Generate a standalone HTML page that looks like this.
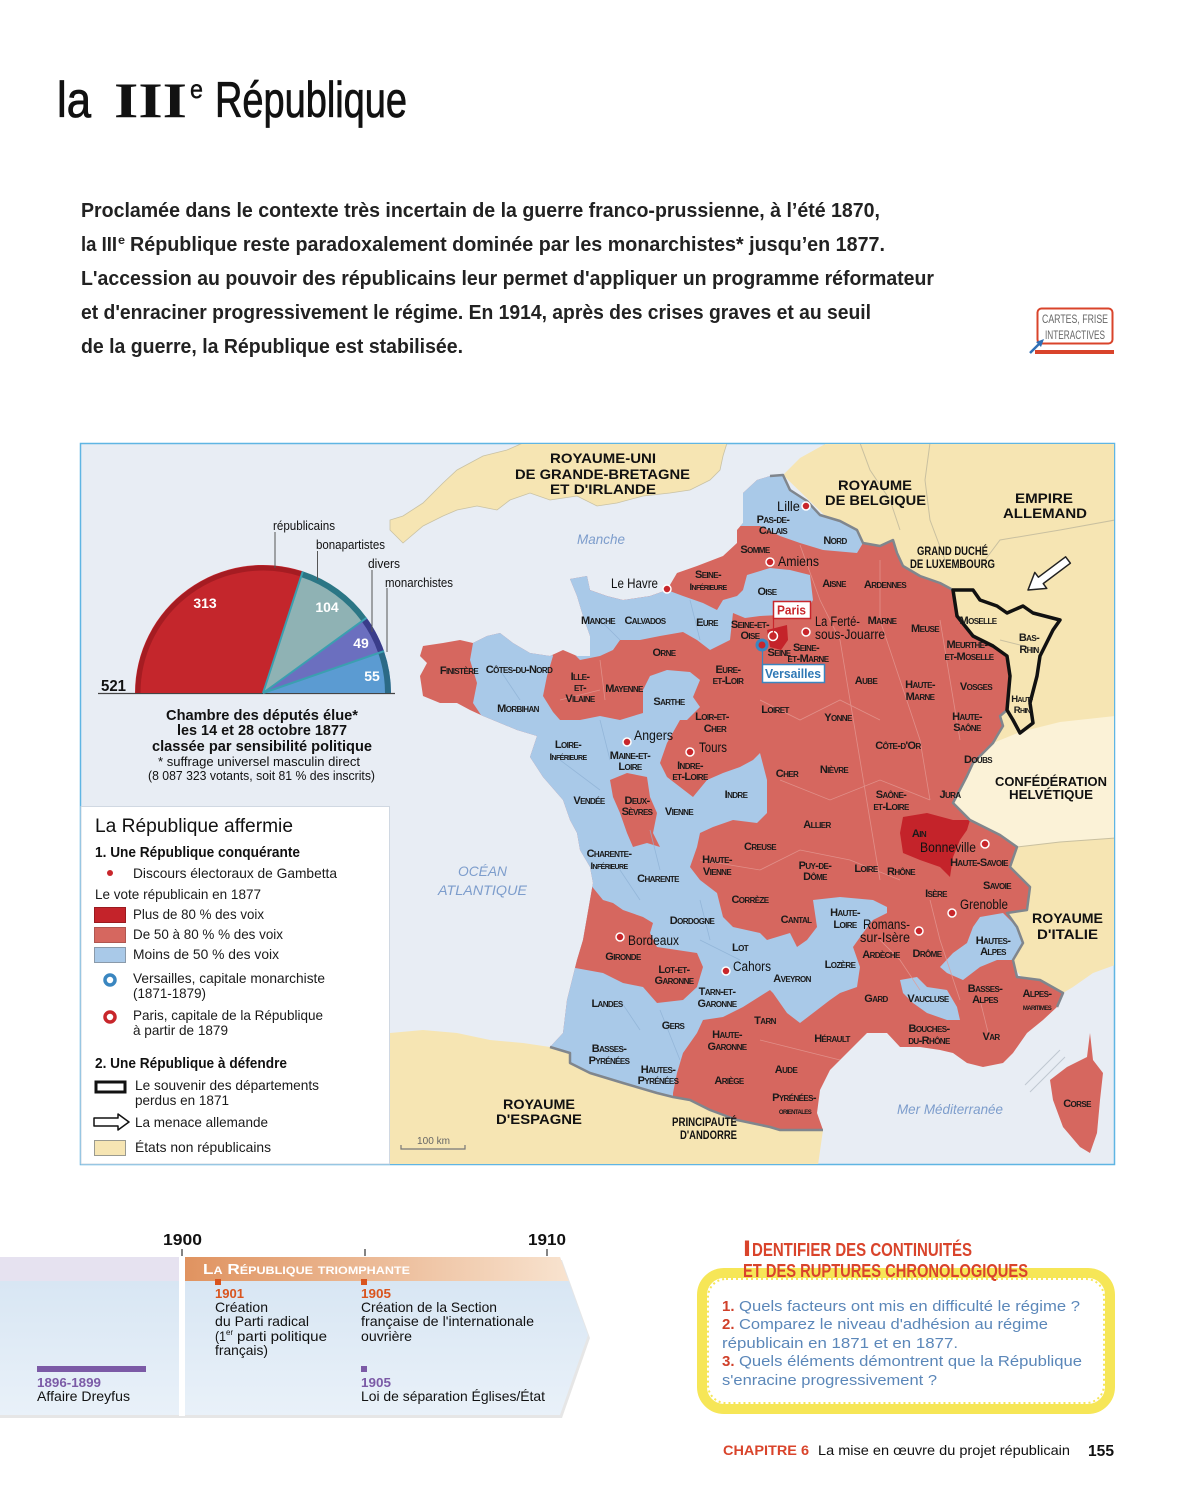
<!DOCTYPE html>
<html lang="fr">
<head>
<meta charset="utf-8">
<title>la IIIe République</title>
<style>
html,body{margin:0;padding:0;background:#fff;}
svg{display:block;}
text{font-family:"Liberation Sans",sans-serif;}
.d{font-weight:bold;font-size:11px;font-variant:small-caps;text-anchor:middle;fill:#1a1a1a;letter-spacing:-0.6px;}
.k{font-weight:bold;fill:#111;}
.c{font-size:13.5px;fill:#111;}
.sea{font-style:italic;fill:#7d9dcc;font-size:14px;}
.lg{font-size:14px;fill:#1a1a1a;}
.tl{font-size:14px;fill:#111;}
.q{font-size:15px;fill:#5b87b9;}
.qn{font-size:15px;fill:#d0402a;font-weight:bold;}
</style>
</head>
<body>
<svg width="1179" height="1500" viewBox="0 0 1179 1500" xmlns="http://www.w3.org/2000/svg">
<defs>
  <clipPath id="fr">
    <path d="M770,476 L783,475 790,490 807,501 820,515 840,521 857,530 863,543 880,546 893,540 897,553 903,566 920,576 940,583 953,590 957,616 973,636 993,646 1007,656 1010,676 1007,710 1000,716 1003,726 997,736 993,743 973,763 967,776 953,803 970,820 1000,835 1017,847 1010,867 1030,887 1027,910 1007,913 1017,927 1023,943 1013,960 1017,977 1040,980 1063,993 1057,1007 1043,1020 1027,1033 1013,1053 1003,1063 983,1067 967,1063 953,1053 940,1050 920,1047 900,1047 887,1033 867,1033 847,1053 830,1070 820,1090 817,1113 823,1130 780,1130 770,1127 737,1120 710,1110 690,1100 673,1097 657,1093 623,1083 590,1073 570,1063 570,1053 550,1047 563,1033 567,1000 577,960 583,940 590,900 593,883 590,867 580,850 577,833 570,820 563,800 543,777 530,757 537,736 517,730 500,723 483,716 470,710 457,703 440,703 423,696 420,676 427,663 420,656 423,646 443,643 460,640 473,643 487,636 500,633 513,643 530,653 550,656 563,650 577,656 590,656 590,636 583,616 577,596 570,579 587,576 590,590 607,596 623,600 650,596 667,590 677,573 697,566 723,556 737,543 737,530 743,523 743,493 757,480 Z"/>
  </clipPath>
  <linearGradient id="org" x1="0" y1="0" x2="1" y2="0">
    <stop offset="0" stop-color="#e09360"/>
    <stop offset="1" stop-color="#f8e3cf"/>
  </linearGradient>
  <linearGradient id="tlb" x1="0" y1="0" x2="0" y2="1">
    <stop offset="0" stop-color="#d5e4f2"/>
    <stop offset="1" stop-color="#e9f1f9"/>
  </linearGradient>
</defs>

<!-- ============ TITLE ============ -->
<text x="57" y="117" font-size="50" textLength="34" lengthAdjust="spacingAndGlyphs" fill="#111" stroke="#111" stroke-width="0.8">la</text>
<text x="114" y="117" font-size="50" font-weight="bold" textLength="73" lengthAdjust="spacingAndGlyphs" fill="#111" style="font-family:'Liberation Serif',serif">III</text>
<text x="190" y="98" font-size="26" textLength="13" lengthAdjust="spacingAndGlyphs" fill="#111" stroke="#111" stroke-width="0.4">e</text>
<text x="215" y="117" font-size="50" textLength="192" lengthAdjust="spacingAndGlyphs" fill="#111" stroke="#111" stroke-width="0.8">République</text>

<!-- ============ INTRO ============ -->
<g font-size="20" font-weight="bold" fill="#222">
<text x="81" y="217" textLength="799" lengthAdjust="spacingAndGlyphs">Proclamée dans le contexte très incertain de la guerre franco-prussienne, à l’été 1870,</text>
<text x="81" y="251" textLength="36" lengthAdjust="spacingAndGlyphs">la III</text>
<text x="118" y="244" font-size="12" textLength="7" lengthAdjust="spacingAndGlyphs">e</text>
<text x="130" y="251" textLength="755" lengthAdjust="spacingAndGlyphs">République reste paradoxalement dominée par les monarchistes* jusqu’en 1877.</text>
<text x="81" y="285" textLength="853" lengthAdjust="spacingAndGlyphs">L'accession au pouvoir des républicains leur permet d'appliquer un programme réformateur</text>
<text x="81" y="319" textLength="790" lengthAdjust="spacingAndGlyphs">et d'enraciner progressivement le régime. En 1914, après des crises graves et au seuil</text>
<text x="81" y="353" textLength="382" lengthAdjust="spacingAndGlyphs">de la guerre, la République est stabilisée.</text>
</g>

<!-- button -->
<rect x="1037.5" y="308.5" width="75" height="35" rx="4" fill="#fff" stroke="#d9442b" stroke-width="2"/>
<text x="1042" y="323" font-size="12" fill="#666" textLength="66" lengthAdjust="spacingAndGlyphs">CARTES, FRISE</text>
<text x="1045" y="339" font-size="12" fill="#666" textLength="60" lengthAdjust="spacingAndGlyphs">INTERACTIVES</text>
<rect x="1035" y="350" width="79" height="4" fill="#d9442b"/>
<path d="M1030,353 L1041,342" stroke="#2f6fb5" stroke-width="2.5"/>
<path d="M1044,339 L1036,342 L1041,347 Z" fill="#2f6fb5"/>

<!-- ============ MAP ============ -->
<rect x="80.5" y="443.5" width="1034" height="721" fill="#e8edf4" stroke="#5fb5e3" stroke-width="1.5"/>
<svg x="81" y="444" width="1033" height="720" viewBox="81 444 1033 720" overflow="hidden">
  <!-- UK -->
  <path d="M390,530 L403,543 423,526 443,516 457,510 477,506 497,510 510,500 530,493 550,500 577,496 597,506 617,503 643,496 670,493 690,490 710,480 720,470 723,456 727,443 523,443 507,450 483,456 457,470 443,483 423,503 403,516 390,520 Z" fill="#f6e5b3" stroke="#c9c2a4" stroke-width="0.8"/>
  <!-- NE: Belgium, Germany, Lux, Switzerland, Italy -->
  <path d="M827,443 L1115,443 1115,965 1093,973 1073,987 1063,993 1040,1000 960,900 900,800 900,600 850,540 783,475 800,458 Z" fill="#f6e5b3"/>
  <path d="M993,743 L1020,732 1060,722 1115,716 1115,838 1060,842 1017,847 970,820 953,803 967,776 973,763 Z" fill="#fbf2d7"/>
  <path d="M860,443 L870,470 890,500 900,530 M930,443 L925,480 930,520 945,560 M985,560 L1000,540 1060,530 1115,520 M1017,847 L1060,842 1115,838" fill="none" stroke="#c9c0a0" stroke-width="1"/>
  <!-- Spain -->
  <path d="M390,1033 L423,1030 457,1033 490,1040 523,1043 550,1047 570,1053 570,1063 590,1073 623,1083 657,1093 673,1097 690,1100 710,1110 737,1120 770,1127 780,1130 823,1130 818,1165 390,1165 Z" fill="#f6e5b3"/>
  <!-- France base red -->
  <path d="M770,476 L783,475 790,490 807,501 820,515 840,521 857,530 863,543 880,546 893,540 897,553 903,566 920,576 940,583 953,590 957,616 973,636 993,646 1007,656 1010,676 1007,710 1000,716 1003,726 997,736 993,743 973,763 967,776 953,803 970,820 1000,835 1017,847 1010,867 1030,887 1027,910 1007,913 1017,927 1023,943 1013,960 1017,977 1040,980 1063,993 1057,1007 1043,1020 1027,1033 1013,1053 1003,1063 983,1067 967,1063 953,1053 940,1050 920,1047 900,1047 887,1033 867,1033 847,1053 830,1070 820,1090 817,1113 823,1130 780,1130 770,1127 737,1120 710,1110 690,1100 673,1097 657,1093 623,1083 590,1073 570,1063 570,1053 550,1047 563,1033 567,1000 577,960 583,940 590,900 593,883 590,867 580,850 577,833 570,820 563,800 543,777 530,757 537,736 517,730 500,723 483,716 470,710 457,703 440,703 423,696 420,676 427,663 420,656 423,646 443,643 460,640 473,643 487,636 500,633 513,643 530,653 550,656 563,650 577,656 590,656 590,636 583,616 577,596 570,579 587,576 590,590 607,596 623,600 650,596 667,590 677,573 697,566 723,556 737,543 737,530 743,523 743,493 757,480 Z" fill="#d6675f"/>
  <g clip-path="url(#fr)">
    <!-- Nord / Pas-de-Calais -->
    <path d="M730,526 L735,470 783,470 790,490 807,501 820,515 840,521 857,530 863,543 857,553 823,550 800,543 780,536 760,526 Z" fill="#a9c9e8"/>
    <!-- Normandy + Oise -->
    <path d="M560,570 L587,570 590,590 607,596 623,600 650,596 667,590 683,596 703,603 717,610 723,600 737,596 743,590 747,575 770,568 790,570 810,575 813,600 805,613 780,615 760,616 745,618 733,613 730,640 710,650 697,640 683,632 660,636 640,640 620,640 613,650 600,656 580,660 560,640 Z" fill="#a9c9e8"/>
    <!-- Big west -->
    <path d="M473,643 L487,630 500,628 513,640 530,650 550,650 553,656 547,676 543,696 553,712 560,720 580,720 600,716 620,720 643,713 643,690 650,676 667,670 690,672 700,680 693,697 700,707 687,720 680,720 667,743 660,763 667,777 680,787 693,797 707,780 723,773 740,767 753,760 760,753 767,780 767,813 757,823 733,820 713,827 700,833 697,847 690,867 700,880 717,893 723,917 733,927 760,933 767,940 790,933 797,947 807,940 817,927 813,900 840,897 873,900 887,907 887,913 873,920 863,933 853,947 860,967 857,987 840,993 830,1000 817,1010 800,1023 787,1013 773,993 770,990 743,1007 723,1017 703,1020 697,1033 683,1053 677,1073 673,1093 673,1110 540,1110 500,1000 415,780 415,722 483,718 473,703 477,683 470,660 Z" fill="#a9c9e8"/>
    <!-- Deux-Sevres red -->
    <path d="M610,780 L627,773 647,777 650,797 657,813 653,833 660,847 647,843 633,847 627,833 620,813 613,797 Z" fill="#d6675f"/>
    <!-- Gironde + Lot-et-Garonne red -->
    <path d="M585,878 L603,900 613,903 623,910 643,917 653,923 650,933 657,947 677,950 697,953 703,967 697,987 683,1000 657,1003 643,987 623,983 603,973 570,967 570,878 Z" fill="#d6675f"/>
    <!-- Vaucluse blue -->
    <path d="M900,980 L917,977 927,987 947,990 957,1007 960,1020 947,1020 927,1013 913,1003 903,993 Z" fill="#a9c9e8"/>
    <!-- Hautes-Alpes blue -->
    <path d="M980,917 L1003,913 1017,927 1023,943 1013,960 997,960 980,967 963,980 947,973 940,967 953,953 967,943 973,927 Z" fill="#a9c9e8"/>
    <!-- Ain dark red -->
    <path d="M903,817 L927,813 953,820 970,820 967,830 960,840 953,857 950,877 940,867 920,860 903,853 900,833 Z" fill="#c4232a"/>
    <!-- Seine -->
    <path d="M767,630 L787,625 788,640 781,650 770,647 Z" fill="#c4232a"/>
    <!-- department boundary hints -->
    <g fill="none" stroke="#e39a94" stroke-width="0.8" opacity="0.8">
      <path d="M800,545 L820,600 840,640 850,700 860,760 870,820 880,880 M880,560 L880,620 900,680 920,740 930,800 M940,620 L950,680 960,740 M760,700 L800,720 840,700 880,720 M780,780 L830,800 880,780 930,800 M700,860 L760,870 800,850 850,860 900,880 M880,940 L900,960 920,990 M930,900 L940,940 960,1000 M760,1040 L800,1050 840,1060 M980,1000 L990,1040 M600,660 L605,700 M560,700 L600,690"/>
    </g>
    <g fill="none" stroke="#8fb2d4" stroke-width="0.8" opacity="0.8">
      <path d="M500,670 L520,700 M600,720 L610,760 M560,760 L600,790 M650,830 L660,870 M620,870 L640,900 M700,900 L710,940 M620,1000 L640,1030 M660,1010 L680,1060 M700,940 L740,960 M600,620 L620,640 M690,600 L700,640"/>
    </g>
  </g>
  <!-- France land borders -->
  <path d="M770,476 L783,475 790,490 807,501 820,515 840,521 857,530 863,543 880,546 893,540 897,553 903,566 920,576 940,583 953,590 957,616 973,636 993,646 1007,656 1010,676 1007,710 1000,716 1003,726 997,736 993,743 973,763 967,776 953,803 970,820 1000,835 1017,847 1010,867 1030,887 1027,910 1007,913 1017,927 1023,943 1013,960 1017,977 1040,980 1063,993 1057,1007" fill="none" stroke="#80868d" stroke-width="2.5" stroke-linejoin="round"/>
  <path d="M550,1047 L570,1053 570,1063 590,1073 623,1083 657,1093 673,1097 690,1100 710,1110 737,1120 770,1127 780,1130 823,1130" fill="none" stroke="#80868d" stroke-width="2.5" stroke-linejoin="round"/>
  <!-- Corsica -->
  <path d="M1090,1033 L1093,1060 1103,1073 1100,1100 1097,1133 1090,1153 1080,1147 1063,1127 1053,1100 1050,1080 1067,1067 1087,1057 Z" fill="#d6675f"/>
  <path d="M1025,1085 L1060,1050 M1030,1092 L1065,1057" stroke="#c0c8d2" stroke-width="1"/>
  <!-- lost territories -->
  <path d="M953,590 L973,590 980,600 997,606 1007,613 1023,606 1033,613 1060,620 1053,630 1040,656 1037,676 1030,703 1033,723 1020,733 1013,720 1007,710 1010,676 1007,656 993,646 973,636 957,616 Z" fill="none" stroke="#111" stroke-width="3.5" stroke-linejoin="round"/>
  <path d="M1000,640 L1040,650" stroke="#c9c0a0" stroke-width="1" fill="none"/>
  <!-- threat arrow -->
  <path d="M1070.4,563.2 L1043.2,583.6 1046.8,588.4 1028,590 1034.8,572.4 1038.4,577.2 1065.6,556.8 Z" fill="#fff" stroke="#222" stroke-width="1.5" stroke-linejoin="round"/>
</svg>

<!-- Pie chart -->
<line x1="98" y1="693.5" x2="395" y2="693.5" stroke="#444" stroke-width="1.2"/>
<path d="M263,693 L135,693 A128,128 0 0 1 302.8,571.3 Z" fill="#c4262c"/>
<path d="M263,693 L302.8,571.3 A128,128 0 0 1 366.6,617.8 Z" fill="#8fb2b4"/>
<path d="M263,693 L366.6,617.8 A128,128 0 0 1 384,651.1 Z" fill="#6b6fbf"/>
<path d="M263,693 L384,651.1 A128,128 0 0 1 391,693 Z" fill="#5b9bd2"/>
<path d="M138,693 A125,125 0 0 1 301.8,574.2" fill="none" stroke="#a51c22" stroke-width="5"/>
<path d="M301.8,574.2 A125,125 0 0 1 364.1,619.5" fill="none" stroke="#2b7685" stroke-width="6"/>
<path d="M364.1,619.5 A125,125 0 0 1 381.1,652.1" fill="none" stroke="#3a3d8a" stroke-width="6"/>
<path d="M381.1,652.1 A125,125 0 0 1 388,693" fill="none" stroke="#2b6a86" stroke-width="6"/>
<g stroke="#3b9fb0" stroke-width="2">
  <line x1="263" y1="693" x2="302.8" y2="571.3"/>
  <line x1="263" y1="693" x2="366.6" y2="617.8"/>
  <line x1="263" y1="693" x2="384" y2="651.1"/>
</g>
<g font-weight="bold" font-size="14" fill="#fff">
  <text x="205" y="608" text-anchor="middle">313</text>
  <text x="327" y="612" text-anchor="middle">104</text>
  <text x="361" y="648" text-anchor="middle">49</text>
  <text x="372" y="681" text-anchor="middle">55</text>
</g>
<text x="101" y="691" font-size="16" font-weight="bold" fill="#111" textLength="25" lengthAdjust="spacingAndGlyphs">521</text>
<g stroke="#555" stroke-width="1">
  <line x1="275" y1="532" x2="275" y2="568"/>
  <line x1="317.5" y1="551" x2="317.5" y2="580"/>
  <line x1="372" y1="570" x2="372" y2="632"/>
  <line x1="387" y1="588" x2="387" y2="652"/>
</g>
<g font-size="13" fill="#111">
  <text x="273" y="530" textLength="62" lengthAdjust="spacingAndGlyphs">républicains</text>
  <text x="316" y="549" textLength="69" lengthAdjust="spacingAndGlyphs">bonapartistes</text>
  <text x="368" y="568" textLength="32" lengthAdjust="spacingAndGlyphs">divers</text>
  <text x="385" y="587" textLength="68" lengthAdjust="spacingAndGlyphs">monarchistes</text>
</g>
<g fill="#111">
  <text x="166" y="720" font-size="15" font-weight="bold" textLength="192" lengthAdjust="spacingAndGlyphs">Chambre des députés élue*</text>
  <text x="177" y="735" font-size="15" font-weight="bold" textLength="170" lengthAdjust="spacingAndGlyphs">les 14 et 28 octobre 1877</text>
  <text x="152" y="751" font-size="15" font-weight="bold" textLength="220" lengthAdjust="spacingAndGlyphs">classée par sensibilité politique</text>
  <text x="158" y="766" font-size="12.5" textLength="202" lengthAdjust="spacingAndGlyphs">* suffrage universel masculin direct</text>
  <text x="148" y="780" font-size="12.5" textLength="227" lengthAdjust="spacingAndGlyphs">(8 087 323 votants, soit 81 % des inscrits)</text>
</g>

<!-- Map labels: countries / seas -->
<g class="k">
  <text x="550" y="463" font-size="14" textLength="106" lengthAdjust="spacingAndGlyphs">ROYAUME-UNI</text>
  <text x="515" y="479" font-size="14" textLength="175" lengthAdjust="spacingAndGlyphs">DE GRANDE-BRETAGNE</text>
  <text x="550" y="494" font-size="14" textLength="106" lengthAdjust="spacingAndGlyphs">ET D'IRLANDE</text>
  <text x="838" y="490" font-size="14" textLength="74" lengthAdjust="spacingAndGlyphs">ROYAUME</text>
  <text x="825" y="505" font-size="14" textLength="101" lengthAdjust="spacingAndGlyphs">DE BELGIQUE</text>
  <text x="1015" y="503" font-size="14" textLength="58" lengthAdjust="spacingAndGlyphs">EMPIRE</text>
  <text x="1003" y="518" font-size="14" textLength="84" lengthAdjust="spacingAndGlyphs">ALLEMAND</text>
  <text x="917" y="555" font-size="12" textLength="71" lengthAdjust="spacingAndGlyphs">GRAND DUCHÉ</text>
  <text x="910" y="568" font-size="12" textLength="85" lengthAdjust="spacingAndGlyphs">DE LUXEMBOURG</text>
  <text x="995" y="786" font-size="13" textLength="112" lengthAdjust="spacingAndGlyphs">CONFÉDÉRATION</text>
  <text x="1009" y="799" font-size="13" textLength="84" lengthAdjust="spacingAndGlyphs">HELVÉTIQUE</text>
  <text x="1032" y="923" font-size="14" textLength="71" lengthAdjust="spacingAndGlyphs">ROYAUME</text>
  <text x="1037" y="939" font-size="14" textLength="61" lengthAdjust="spacingAndGlyphs">D'ITALIE</text>
  <text x="503" y="1109" font-size="14" textLength="72" lengthAdjust="spacingAndGlyphs">ROYAUME</text>
  <text x="496" y="1124" font-size="14" textLength="86" lengthAdjust="spacingAndGlyphs">D'ESPAGNE</text>
  <text x="672" y="1126" font-size="12" textLength="65" lengthAdjust="spacingAndGlyphs">PRINCIPAUTÉ</text>
  <text x="680" y="1139" font-size="12" textLength="57" lengthAdjust="spacingAndGlyphs">D'ANDORRE</text>
</g>
<text class="sea" x="577" y="544" textLength="48" lengthAdjust="spacingAndGlyphs">Manche</text>
<text class="sea" x="458" y="876" textLength="49" lengthAdjust="spacingAndGlyphs">OCÉAN</text>
<text class="sea" x="438" y="895" textLength="89" lengthAdjust="spacingAndGlyphs">ATLANTIQUE</text>
<text class="sea" x="897" y="1114" textLength="106" lengthAdjust="spacingAndGlyphs">Mer Méditerranée</text>
<text x="417" y="1144" font-size="10" fill="#666" textLength="33" lengthAdjust="spacingAndGlyphs">100 km</text>
<path d="M401,1145 L401,1149 L465,1149 L465,1145" fill="none" stroke="#777" stroke-width="1.2"/>

<!-- Departments -->
<g class="d">
  <text x="773" y="523">Pas-de-</text><text x="773" y="534">Calais</text>
  <text x="835" y="544">Nord</text>
  <text x="755" y="553">Somme</text>
  <text x="708" y="578">Seine-</text><text x="708" y="590" font-size="9.5">Inférieure</text>
  <text x="767" y="595">Oise</text>
  <text x="834" y="587">Aisne</text>
  <text x="885" y="588">Ardennes</text>
  <text x="598" y="624">Manche</text>
  <text x="645" y="624">Calvados</text>
  <text x="707" y="626">Eure</text>
  <text x="750" y="628">Seine-et-</text><text x="750" y="639">Oise</text>
  <text x="882" y="624">Marne</text>
  <text x="925" y="632">Meuse</text>
  <text x="806" y="651">Seine-</text><text x="808" y="662">et-Marne</text>
  <text x="779" y="656">Seine</text>
  <text x="978" y="624">Moselle</text>
  <text x="1029" y="641">Bas-</text><text x="1029" y="653">Rhin</text>
  <text x="967" y="648">Meurthe-</text><text x="969" y="660">et-Moselle</text>
  <text x="1022" y="702" font-size="9.5">Haut-</text><text x="1022" y="713" font-size="9.5">Rhin</text>
  <text x="459" y="674">Finistère</text>
  <text x="519" y="673">Côtes-du-Nord</text>
  <text x="580" y="680">Ille-</text><text x="580" y="691">et-</text><text x="580" y="702">Vilaine</text>
  <text x="624" y="692">Mayenne</text>
  <text x="664" y="656">Orne</text>
  <text x="728" y="673">Eure-</text><text x="728" y="684">et-Loir</text>
  <text x="866" y="684">Aube</text>
  <text x="920" y="688">Haute-</text><text x="920" y="700">Marne</text>
  <text x="976" y="690">Vosges</text>
  <text x="518" y="712">Morbihan</text>
  <text x="669" y="705">Sarthe</text>
  <text x="775" y="713">Loiret</text>
  <text x="712" y="720">Loir-et-</text><text x="715" y="732">Cher</text>
  <text x="838" y="721">Yonne</text>
  <text x="967" y="720">Haute-</text><text x="967" y="731">Saône</text>
  <text x="568" y="748">Loire-</text><text x="568" y="760" font-size="9.5">Inférieure</text>
  <text x="630" y="759">Maine-et-</text><text x="630" y="770">Loire</text>
  <text x="690" y="769">Indre-</text><text x="690" y="780">et-Loire</text>
  <text x="898" y="749">Côte-d'Or</text>
  <text x="978" y="763">Doubs</text>
  <text x="787" y="777">Cher</text>
  <text x="834" y="773">Nièvre</text>
  <text x="736" y="798">Indre</text>
  <text x="589" y="804">Vendée</text>
  <text x="637" y="804">Deux-</text><text x="637" y="815">Sèvres</text>
  <text x="679" y="815">Vienne</text>
  <text x="891" y="798">Saône-</text><text x="891" y="810">et-Loire</text>
  <text x="950" y="798">Jura</text>
  <text x="817" y="828">Allier</text>
  <text x="919" y="837">Ain</text>
  <text x="760" y="850">Creuse</text>
  <text x="609" y="857">Charente-</text><text x="609" y="869" font-size="9.5">Inférieure</text>
  <text x="717" y="863">Haute-</text><text x="717" y="875">Vienne</text>
  <text x="815" y="869">Puy-de-</text><text x="815" y="880">Dôme</text>
  <text x="866" y="872">Loire</text>
  <text x="901" y="875">Rhône</text>
  <text x="979" y="866">Haute-Savoie</text>
  <text x="658" y="882">Charente</text>
  <text x="997" y="889">Savoie</text>
  <text x="936" y="897">Isère</text>
  <text x="750" y="903">Corrèze</text>
  <text x="692" y="924">Dordogne</text>
  <text x="796" y="923">Cantal</text>
  <text x="845" y="916">Haute-</text><text x="845" y="928">Loire</text>
  <text x="740" y="951">Lot</text>
  <text x="881" y="958">Ardèche</text>
  <text x="927" y="957">Drôme</text>
  <text x="993" y="944">Hautes-</text><text x="993" y="955">Alpes</text>
  <text x="623" y="960">Gironde</text>
  <text x="840" y="968">Lozère</text>
  <text x="674" y="973">Lot-et-</text><text x="674" y="984">Garonne</text>
  <text x="792" y="982">Aveyron</text>
  <text x="717" y="995">Tarn-et-</text><text x="717" y="1007">Garonne</text>
  <text x="985" y="992">Basses-</text><text x="985" y="1003">Alpes</text>
  <text x="1037" y="997">Alpes-</text><text x="1037" y="1010" font-size="9">maritimes</text>
  <text x="607" y="1007">Landes</text>
  <text x="876" y="1002">Gard</text>
  <text x="928" y="1002">Vaucluse</text>
  <text x="673" y="1029">Gers</text>
  <text x="765" y="1024">Tarn</text>
  <text x="929" y="1032">Bouches-</text><text x="929" y="1044">du-Rhône</text>
  <text x="991" y="1040">Var</text>
  <text x="832" y="1042">Hérault</text>
  <text x="727" y="1038">Haute-</text><text x="727" y="1050">Garonne</text>
  <text x="609" y="1052">Basses-</text><text x="609" y="1064">Pyrénées</text>
  <text x="658" y="1073">Hautes-</text><text x="658" y="1084">Pyrénées</text>
  <text x="729" y="1084">Ariège</text>
  <text x="786" y="1073">Aude</text>
  <text x="794" y="1101">Pyrénées-</text><text x="795" y="1114" font-size="9">orientales</text>
  <text x="1077" y="1107">Corse</text>
</g>

<!-- Cities -->
<g fill="#c8262b" stroke="#fff" stroke-width="1.5">
  <circle cx="806" cy="506" r="4"/>
  <circle cx="770" cy="562" r="4"/>
  <circle cx="667" cy="589" r="4"/>
  <circle cx="806" cy="632" r="4"/>
  <circle cx="627" cy="742" r="4"/>
  <circle cx="690" cy="752" r="4"/>
  <circle cx="620" cy="937" r="4"/>
  <circle cx="726" cy="971" r="4"/>
  <circle cx="985" cy="844" r="4"/>
  <circle cx="952" cy="913" r="4"/>
  <circle cx="919" cy="931" r="4"/>
  <circle cx="773" cy="636" r="4.5"/>
</g>
<g class="c">
  <text x="777" y="511" textLength="23" lengthAdjust="spacingAndGlyphs">Lille</text>
  <text x="778" y="566" textLength="41" lengthAdjust="spacingAndGlyphs">Amiens</text>
  <text x="611" y="588" textLength="47" lengthAdjust="spacingAndGlyphs">Le Havre</text>
  <text x="815" y="626" textLength="45" lengthAdjust="spacingAndGlyphs">La Ferté-</text>
  <text x="815" y="639" textLength="70" lengthAdjust="spacingAndGlyphs">sous-Jouarre</text>
  <text x="634" y="740" textLength="39" lengthAdjust="spacingAndGlyphs">Angers</text>
  <text x="699" y="752" textLength="28" lengthAdjust="spacingAndGlyphs">Tours</text>
  <text x="628" y="945" textLength="51" lengthAdjust="spacingAndGlyphs">Bordeaux</text>
  <text x="733" y="971" textLength="38" lengthAdjust="spacingAndGlyphs">Cahors</text>
  <text x="920" y="852" textLength="56" lengthAdjust="spacingAndGlyphs">Bonneville</text>
  <text x="960" y="909" textLength="48" lengthAdjust="spacingAndGlyphs">Grenoble</text>
  <text x="863" y="929" textLength="47" lengthAdjust="spacingAndGlyphs">Romans-</text>
  <text x="860" y="942" textLength="50" lengthAdjust="spacingAndGlyphs">sur-Isère</text>
</g>
<!-- Paris / Versailles -->
<line x1="773.5" y1="618" x2="773.5" y2="636" stroke="#c8262b" stroke-width="1.2"/>
<rect x="773.5" y="601.5" width="37" height="17" fill="#fff" stroke="#c8262b" stroke-width="1.5"/>
<text x="777" y="614.5" font-size="13" font-weight="bold" fill="#c8262b" textLength="29" lengthAdjust="spacingAndGlyphs">Paris</text>
<line x1="762.5" y1="645" x2="762.5" y2="665" stroke="#3a86c0" stroke-width="1.2"/>
<rect x="762.5" y="664.5" width="62" height="18" fill="#fff" stroke="#3a86c0" stroke-width="1.5"/>
<text x="765" y="678" font-size="13" font-weight="bold" fill="#2f78b5" textLength="56" lengthAdjust="spacingAndGlyphs">Versailles</text>
<circle cx="762" cy="645" r="5" fill="#c8262b" stroke="#3a86c0" stroke-width="3"/>

<!-- Legend box -->
<rect x="81" y="806.5" width="308.5" height="357.5" fill="#fff" stroke="#d0d8e2" stroke-width="1"/>
<text x="95" y="832" font-size="19" fill="#111" textLength="198" lengthAdjust="spacingAndGlyphs">La République affermie</text>
<text x="95" y="857" font-size="14.5" font-weight="bold" fill="#111" textLength="205" lengthAdjust="spacingAndGlyphs">1. Une République conquérante</text>
<circle cx="110" cy="873" r="3" fill="#c8262b"/>
<text class="lg" x="133" y="878" textLength="204" lengthAdjust="spacingAndGlyphs">Discours électoraux de Gambetta</text>
<text class="lg" x="95" y="899" textLength="166" lengthAdjust="spacingAndGlyphs">Le vote républicain en 1877</text>
<rect x="94.5" y="907.5" width="31" height="15" fill="#c4232a" stroke="#9a1a1f"/>
<text class="lg" x="133" y="919" textLength="131" lengthAdjust="spacingAndGlyphs">Plus de 80 % des voix</text>
<rect x="94.5" y="927.5" width="31" height="15" fill="#d6675f" stroke="#b05650"/>
<text class="lg" x="133" y="939" textLength="150" lengthAdjust="spacingAndGlyphs">De 50 à 80 % % des voix</text>
<rect x="94.5" y="947.5" width="31" height="15" fill="#a9c9e8" stroke="#8a9aaa"/>
<text class="lg" x="133" y="959" textLength="146" lengthAdjust="spacingAndGlyphs">Moins de 50 % des voix</text>
<circle cx="110" cy="980" r="5" fill="#fff" stroke="#3a86c0" stroke-width="3.5"/>
<text class="lg" x="133" y="983" textLength="192" lengthAdjust="spacingAndGlyphs">Versailles, capitale monarchiste</text>
<text class="lg" x="133" y="998" textLength="73" lengthAdjust="spacingAndGlyphs">(1871-1879)</text>
<circle cx="110" cy="1017" r="5" fill="#fff" stroke="#c8262b" stroke-width="3.5"/>
<text class="lg" x="133" y="1020" textLength="190" lengthAdjust="spacingAndGlyphs">Paris, capitale de la République</text>
<text class="lg" x="133" y="1035" textLength="95" lengthAdjust="spacingAndGlyphs">à partir de 1879</text>
<text x="95" y="1068" font-size="14.5" font-weight="bold" fill="#111" textLength="192" lengthAdjust="spacingAndGlyphs">2. Une République à défendre</text>
<rect x="96" y="1082" width="29" height="10" fill="#fff" stroke="#111" stroke-width="3"/>
<text class="lg" x="135" y="1090" textLength="184" lengthAdjust="spacingAndGlyphs">Le souvenir des départements</text>
<text class="lg" x="135" y="1105" textLength="94" lengthAdjust="spacingAndGlyphs">perdus en 1871</text>
<path d="M94,1118 L118,1118 118,1114 129,1122 118,1130 118,1126 94,1126 Z" fill="#fff" stroke="#111" stroke-width="1.5" stroke-linejoin="round"/>
<text class="lg" x="135" y="1127" textLength="133" lengthAdjust="spacingAndGlyphs">La menace allemande</text>
<rect x="94.5" y="1140.5" width="31" height="15" fill="#f6e5b3" stroke="#9a9a90"/>
<text class="lg" x="135" y="1152" textLength="136" lengthAdjust="spacingAndGlyphs">États non républicains</text>

<!-- ============ TIMELINE ============ -->
<path d="M0,1260 L562,1260 L590,1338 L562,1418 L0,1418 Z" fill="#c8c8c8" opacity="0.45"/>
<path d="M0,1257 L560,1257 L588,1335 L560,1415 L0,1415 Z" fill="url(#tlb)"/>
<rect x="0" y="1257" width="179" height="24" fill="#e6e2f0"/>
<path d="M185,1257 L560,1257 L568.6,1281 L185,1281 Z" fill="url(#org)"/>
<rect x="179" y="1250" width="6" height="166" fill="#fff"/>
<g stroke="#333" stroke-width="1.2">
  <line x1="182" y1="1249" x2="182" y2="1256"/>
  <line x1="365" y1="1249" x2="365" y2="1256"/>
  <line x1="547" y1="1249" x2="547" y2="1256"/>
</g>
<text x="163" y="1245" font-size="16" font-weight="bold" fill="#111" textLength="39" lengthAdjust="spacingAndGlyphs">1900</text>
<text x="528" y="1245" font-size="16" font-weight="bold" fill="#111" textLength="38" lengthAdjust="spacingAndGlyphs">1910</text>
<text x="203" y="1274" font-size="15" font-weight="bold" fill="#fff" style="font-variant:small-caps" textLength="207" lengthAdjust="spacingAndGlyphs">La République triomphante</text>
<rect x="215" y="1279" width="6" height="6" fill="#d9541e"/>
<rect x="361" y="1279" width="6" height="6" fill="#d9541e"/>
<text x="215" y="1298" font-size="13" font-weight="bold" fill="#d9541e" textLength="29" lengthAdjust="spacingAndGlyphs">1901</text>
<text class="tl" x="215" y="1312" textLength="53" lengthAdjust="spacingAndGlyphs">Création</text>
<text class="tl" x="215" y="1326" textLength="94" lengthAdjust="spacingAndGlyphs">du Parti radical</text>
<text class="tl" x="215" y="1341" textLength="11" lengthAdjust="spacingAndGlyphs">(1</text>
<text x="226" y="1335" font-size="8" fill="#111">er</text>
<text class="tl" x="237" y="1341" textLength="90" lengthAdjust="spacingAndGlyphs">parti politique</text>
<text class="tl" x="215" y="1355" textLength="53" lengthAdjust="spacingAndGlyphs">français)</text>
<text x="361" y="1298" font-size="13" font-weight="bold" fill="#d9541e" textLength="30" lengthAdjust="spacingAndGlyphs">1905</text>
<text class="tl" x="361" y="1312" textLength="136" lengthAdjust="spacingAndGlyphs">Création de la Section</text>
<text class="tl" x="361" y="1326" textLength="173" lengthAdjust="spacingAndGlyphs">française de l'internationale</text>
<text class="tl" x="361" y="1341" textLength="51" lengthAdjust="spacingAndGlyphs">ouvrière</text>
<rect x="37" y="1366" width="109" height="6" fill="#7b5aa6"/>
<text x="37" y="1387" font-size="13" font-weight="bold" fill="#7b5aa6" textLength="64" lengthAdjust="spacingAndGlyphs">1896-1899</text>
<text class="tl" x="37" y="1401" textLength="93" lengthAdjust="spacingAndGlyphs">Affaire Dreyfus</text>
<rect x="361" y="1366" width="6" height="6" fill="#7b5aa6"/>
<text x="361" y="1387" font-size="13" font-weight="bold" fill="#7b5aa6" textLength="30" lengthAdjust="spacingAndGlyphs">1905</text>
<text class="tl" x="361" y="1401" textLength="184" lengthAdjust="spacingAndGlyphs">Loi de séparation Églises/État</text>

<!-- ============ QUESTIONS ============ -->
<rect x="702" y="1273" width="408" height="136" rx="22" fill="#fff" stroke="#f6e657" stroke-width="10"/>
<rect x="708" y="1279" width="396" height="124" rx="18" fill="none" stroke="#f6e657" stroke-width="2" stroke-dasharray="2 3"/>
<text x="743" y="1256" font-size="22" font-weight="bold" fill="#d9442b" textLength="8" lengthAdjust="spacingAndGlyphs">I</text>
<text x="752" y="1256" font-size="18" font-weight="bold" fill="#d9442b" textLength="220" lengthAdjust="spacingAndGlyphs">DENTIFIER DES CONTINUITÉS</text>
<text x="743" y="1277" font-size="18" font-weight="bold" fill="#d9442b" textLength="285" lengthAdjust="spacingAndGlyphs">ET DES RUPTURES CHRONOLOGIQUES</text>
<text class="qn" x="722" y="1311">1.</text>
<text class="q" x="739" y="1311" textLength="341" lengthAdjust="spacingAndGlyphs">Quels facteurs ont mis en difficulté le régime ?</text>
<text class="qn" x="722" y="1329">2.</text>
<text class="q" x="739" y="1329" textLength="309" lengthAdjust="spacingAndGlyphs">Comparez le niveau d'adhésion au régime</text>
<text class="q" x="722" y="1348" textLength="236" lengthAdjust="spacingAndGlyphs">républicain en 1871 et en 1877.</text>
<text class="qn" x="722" y="1366">3.</text>
<text class="q" x="739" y="1366" textLength="343" lengthAdjust="spacingAndGlyphs">Quels éléments démontrent que la République</text>
<text class="q" x="722" y="1385" textLength="215" lengthAdjust="spacingAndGlyphs">s'enracine progressivement ?</text>

<!-- ============ FOOTER ============ -->
<text x="723" y="1455" font-size="13.5" font-weight="bold" fill="#d9442b" textLength="86" lengthAdjust="spacingAndGlyphs">CHAPITRE 6</text>
<text x="818" y="1455" font-size="14" fill="#111" textLength="252" lengthAdjust="spacingAndGlyphs">La mise en œuvre du projet républicain</text>
<text x="1088" y="1456" font-size="16" font-weight="bold" fill="#111" textLength="26" lengthAdjust="spacingAndGlyphs">155</text>
</svg>
</body>
</html>
